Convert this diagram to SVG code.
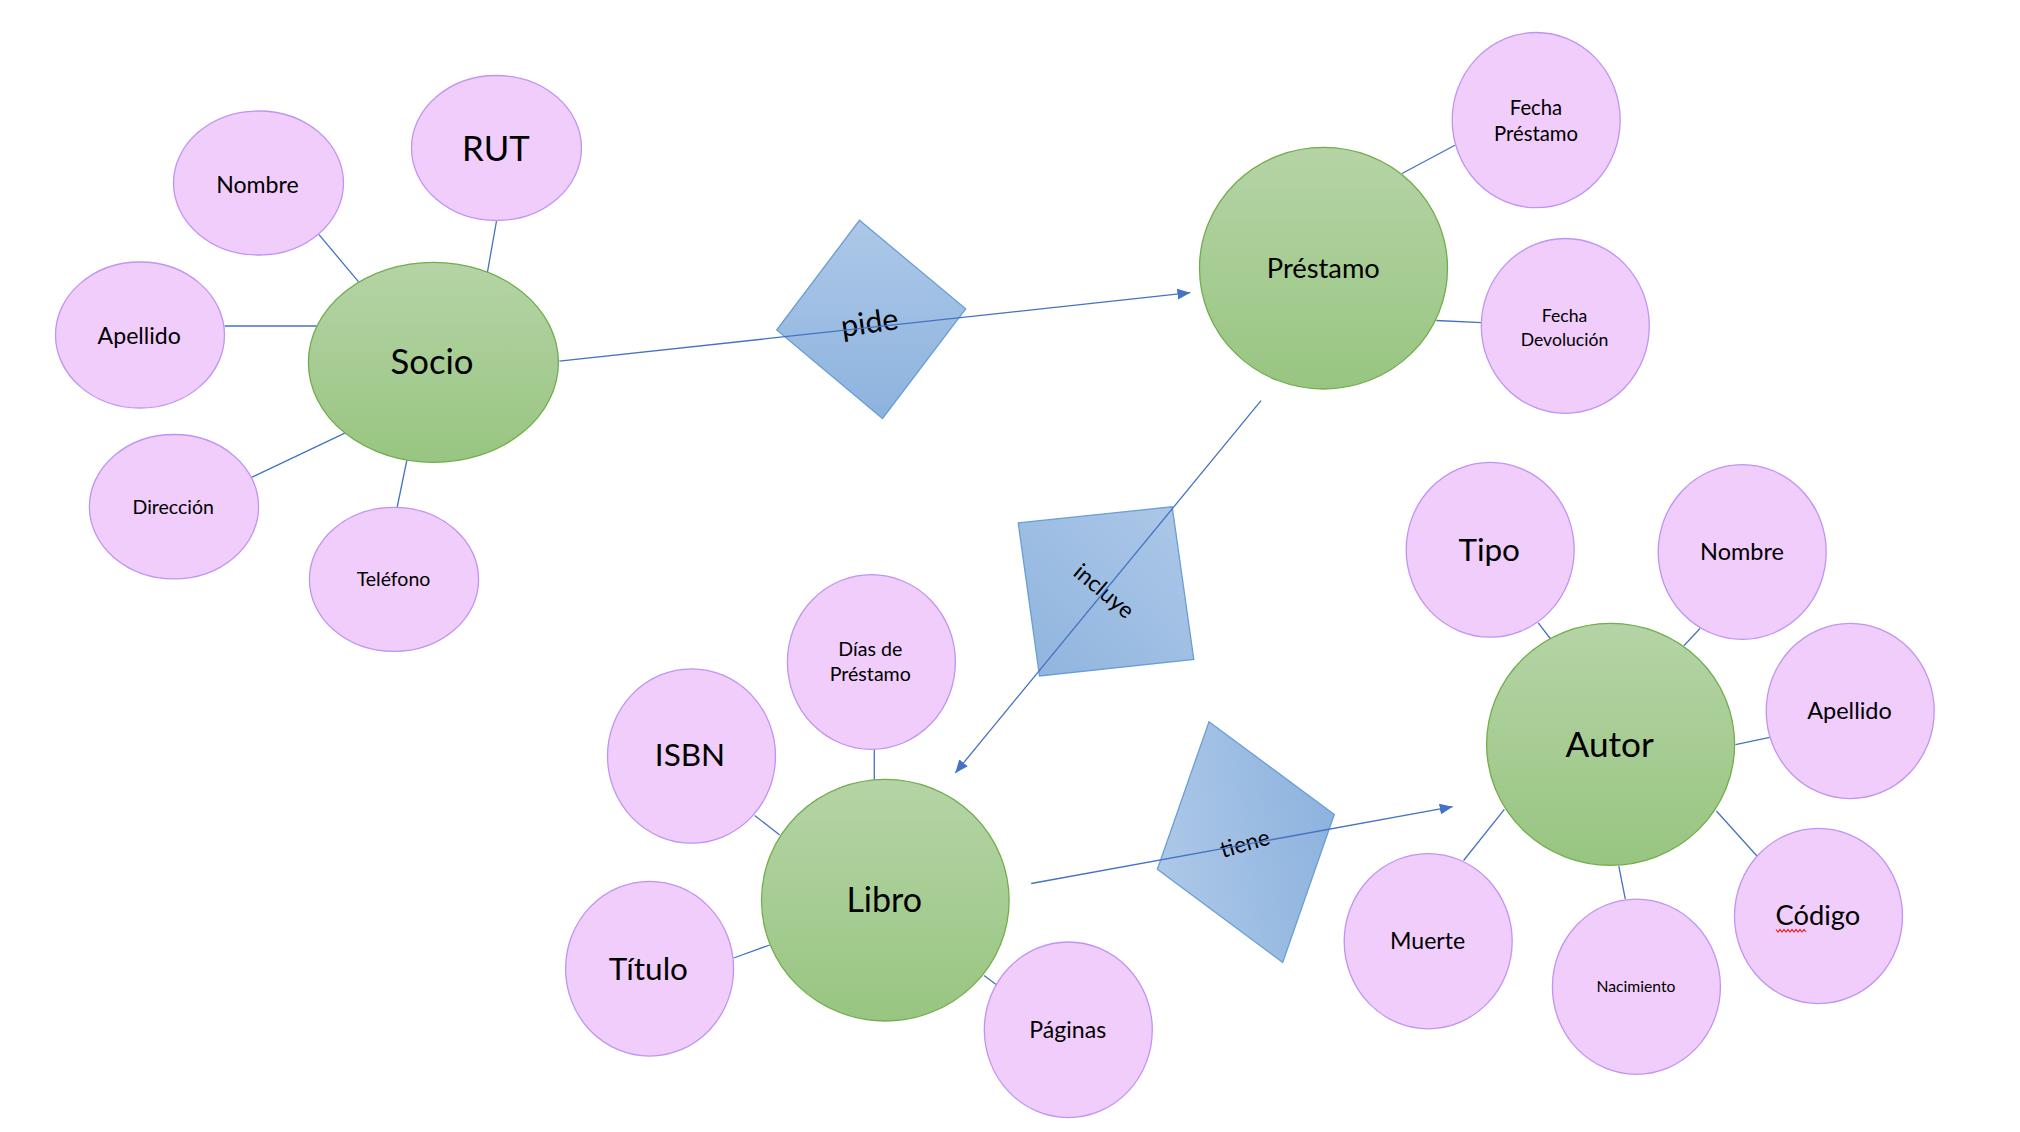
<svg xmlns="http://www.w3.org/2000/svg" width="2020" height="1132" viewBox="0 0 2020 1132">
<defs>
<linearGradient id="gEnt" x1="0" y1="0" x2="0" y2="1">
<stop offset="0" stop-color="#B5D4A6"/>
<stop offset="1" stop-color="#98C581"/>
</linearGradient>
<linearGradient id="gPide" x1="0" y1="0" x2="0" y2="1">
<stop offset="0" stop-color="#ADC8E8"/>
<stop offset="1" stop-color="#8DB3DE"/>
</linearGradient>
<linearGradient id="gIncluye" x1="1" y1="0" x2="0" y2="1">
<stop offset="0" stop-color="#ADC8E8"/>
<stop offset="1" stop-color="#8FB4DE"/>
</linearGradient>
<linearGradient id="gTiene" x1="0" y1="0.6" x2="1" y2="0.4">
<stop offset="0" stop-color="#ADC8E8"/>
<stop offset="1" stop-color="#8DB3DE"/>
</linearGradient>
<marker id="arrow" markerUnits="userSpaceOnUse" markerWidth="13" markerHeight="11" refX="13" refY="5.5" orient="auto">
<path d="M0,0 L13,5.5 L0,11 Z" fill="#4472C4"/>
</marker>
</defs>
<style>
.attr{fill:#F0CDFB;stroke:#BF95F3;stroke-width:1.3}
.ent{fill:url(#gEnt);stroke:#72AD4B;stroke-width:1.3}
.rel{stroke:#6A9ED6;stroke-width:1.3}
.con{stroke:#4472C4;stroke-width:1.3;fill:none}
text{font-family:Lato,"Open Sans","Liberation Sans",sans-serif;fill:#000;text-anchor:middle}
</style>
<rect width="2020" height="1132" fill="#FFFFFF"/>

<g id="connectors">
<line class="con" x1="319" y1="234.6" x2="358.6" y2="281.9"/>
<line class="con" x1="496.5" y1="221" x2="487.4" y2="272.3"/>
<line class="con" x1="224.6" y1="326" x2="316.6" y2="326"/>
<line class="con" x1="251.5" y1="477.4" x2="344.8" y2="433.2"/>
<line class="con" x1="406.8" y1="460.5" x2="397.2" y2="507"/>
<line class="con" x1="1402" y1="173.5" x2="1454.9" y2="145.3"/>
<line class="con" x1="1436.3" y1="320.5" x2="1481.4" y2="322.6"/>
<line class="con" x1="874.3" y1="749.5" x2="874.3" y2="779.4"/>
<line class="con" x1="754.6" y1="815.4" x2="779.7" y2="834.9"/>
<line class="con" x1="733.7" y1="958" x2="769.7" y2="945"/>
<line class="con" x1="984" y1="975.4" x2="996.1" y2="984.5"/>
<line class="con" x1="1538.2" y1="622.9" x2="1550.3" y2="638.5"/>
<line class="con" x1="1700" y1="628.5" x2="1683.9" y2="645.8"/>
<line class="con" x1="1735.5" y1="744.7" x2="1769.7" y2="737.3"/>
<line class="con" x1="1716.4" y1="811" x2="1757.2" y2="856.2"/>
<line class="con" x1="1504.4" y1="809.3" x2="1463.6" y2="860.5"/>
<line class="con" x1="1618.8" y1="866.1" x2="1625.3" y2="899.1"/>
</g>

<g id="rel-pide">
<polygon class="rel" fill="url(#gPide)" points="859.5,220.3 965.7,308.8 882.5,418.5 776.7,330"/>
<text x="0" y="0" font-size="30.5" transform="translate(871,333) rotate(-8)">pide</text>
</g>
<g id="rel-incluye">
<polygon class="rel" fill="url(#gIncluye)" points="1018.2,522.8 1172.2,506.8 1193.8,659.5 1039.5,676"/>
<text x="0" y="0" font-size="22.7" transform="translate(1099,597) rotate(40)">incluye</text>
</g>
<g id="rel-tiene">
<polygon class="rel" fill="url(#gTiene)" points="1209,721.7 1334.3,814.5 1282.7,962.4 1157.4,869.2"/>
<text x="0" y="0" font-size="22.6" transform="translate(1247,851) rotate(-16)">tiene</text>
</g>

<g id="relation-arrows">
<line class="con" x1="559.4" y1="361.2" x2="1190.4" y2="292.7" marker-end="url(#arrow)"/>
<line class="con" x1="1261" y1="400.7" x2="955.3" y2="772.9" marker-end="url(#arrow)"/>
<line class="con" x1="1031.2" y1="883.5" x2="1452.7" y2="806.7" marker-end="url(#arrow)"/>
</g>

<g id="socio">
<ellipse class="ent" cx="433.4" cy="362.4" rx="125" ry="100"/>
<text x="432" y="374" font-size="34.7">Socio</text>
</g>
<g id="socio-nombre">
<ellipse class="attr" cx="258.5" cy="183" rx="85" ry="72"/>
<text x="257.4" y="193" font-size="23.1">Nombre</text>
</g>
<g id="socio-rut">
<ellipse class="attr" cx="496.5" cy="148" rx="85" ry="72.5"/>
<text x="495.9" y="161.3" font-size="34.7">RUT</text>
</g>
<g id="socio-apellido">
<ellipse class="attr" cx="140" cy="335" rx="84.5" ry="73"/>
<text x="139.2" y="343.5" font-size="23.1">Apellido</text>
</g>
<g id="socio-direccion">
<ellipse class="attr" cx="174" cy="506.7" rx="84.6" ry="72.2"/>
<text x="173.2" y="514.3" font-size="19.5">Dirección</text>
</g>
<g id="socio-telefono">
<ellipse class="attr" cx="394" cy="579.4" rx="84.6" ry="72"/>
<text x="393.5" y="586.3" font-size="19.5">Teléfono</text>
</g>

<g id="prestamo">
<ellipse class="ent" cx="1323.5" cy="268.2" rx="124" ry="120.8"/>
<text x="1323.3" y="277.5" font-size="27.3">Préstamo</text>
</g>
<g id="prestamo-fecha-prestamo">
<ellipse class="attr" cx="1536.2" cy="120.1" rx="84" ry="87.6"/>
<text x="1536" y="115" font-size="20.3">Fecha</text>
<text x="1536" y="140.5" font-size="20.3">Préstamo</text>
</g>
<g id="prestamo-fecha-devolucion">
<ellipse class="attr" cx="1565.3" cy="325.9" rx="84" ry="87.4"/>
<text x="1564.5" y="321.8" font-size="17.6">Fecha</text>
<text x="1564.5" y="345.6" font-size="17.6">Devolución</text>
</g>

<g id="libro">
<ellipse class="ent" cx="885.3" cy="900.2" rx="123.8" ry="120.8"/>
<text x="884.2" y="911.7" font-size="34">Libro</text>
</g>
<g id="libro-dias">
<ellipse class="attr" cx="871.4" cy="662" rx="84" ry="87.4"/>
<text x="870.3" y="655.8" font-size="19.6">Días de</text>
<text x="870.3" y="681.4" font-size="19.6">Préstamo</text>
</g>
<g id="libro-isbn">
<ellipse class="attr" cx="691.5" cy="756" rx="84" ry="87.2"/>
<text x="690" y="766" font-size="31.5">ISBN</text>
</g>
<g id="libro-titulo">
<ellipse class="attr" cx="649.6" cy="968.7" rx="84" ry="87.4"/>
<text x="648.4" y="979.8" font-size="31.5">Título</text>
</g>
<g id="libro-paginas">
<ellipse class="attr" cx="1068.3" cy="1029.8" rx="84" ry="87.8"/>
<text x="1067.7" y="1038.3" font-size="23.1">Páginas</text>
</g>

<g id="autor">
<ellipse class="ent" cx="1610.6" cy="744.3" rx="124" ry="121"/>
<text x="1609.7" y="756.9" font-size="35.2">Autor</text>
</g>
<g id="autor-tipo">
<ellipse class="attr" cx="1490.2" cy="549.8" rx="84" ry="87.4"/>
<text x="1489.2" y="561.3" font-size="31.5">Tipo</text>
</g>
<g id="autor-nombre">
<ellipse class="attr" cx="1742.2" cy="552" rx="84" ry="87.4"/>
<text x="1742" y="560.4" font-size="23.5">Nombre</text>
</g>
<g id="autor-apellido">
<ellipse class="attr" cx="1850.2" cy="711" rx="84" ry="87.6"/>
<text x="1849.5" y="718.7" font-size="23.5">Apellido</text>
</g>
<g id="autor-codigo">
<ellipse class="attr" cx="1818.5" cy="916" rx="84" ry="87.6"/>
<text x="1817.9" y="924.7" font-size="27.3">Código</text>
<path d="M1776,929.5 l2,2.5 l2,-2.5 l2,2.5 l2,-2.5 l2,2.5 l2,-2.5 l2,2.5 l2,-2.5 l2,2.5 l2,-2.5 l2,2.5 l2,-2.5 l2,2.5 l2,-2.5 l2,2.5" fill="none" stroke="#E3262A" stroke-width="1.1"/>
</g>
<g id="autor-muerte">
<ellipse class="attr" cx="1428.2" cy="941.2" rx="84" ry="87.6"/>
<text x="1427.6" y="949" font-size="23.1">Muerte</text>
</g>
<g id="autor-nacimiento">
<ellipse class="attr" cx="1636.4" cy="986.7" rx="84" ry="87.6"/>
<text x="1636" y="992.3" font-size="15.7">Nacimiento</text>
</g>
</svg>
